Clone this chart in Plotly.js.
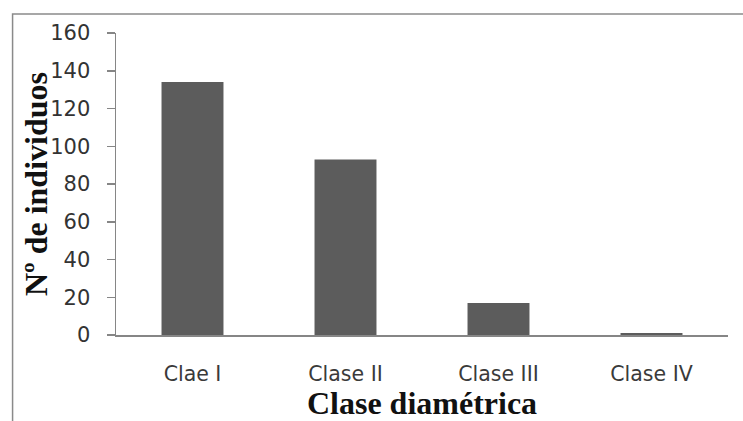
<!DOCTYPE html>
<html>
<head>
<meta charset="utf-8">
<script src="https://cdn.plot.ly/plotly-3.0.1.min.js"></script>
<style>
  html, body { margin: 0; padding: 0; background: #ffffff; }
  #chart { width: 743px; height: 421px; }
</style>
</head>
<body>
<div id="chart"></div>
<script>
// Number of individuals per diameter class
const categories = ["Clae I", "Clase II", "Clase III", "Clase IV"];
const individuos = [134, 93, 17, 1];
const yTicks = [0, 20, 40, 60, 80, 100, 120, 140, 160];
const xTitle = "Clase diamétrica";
const yTitle = "Nº de individuos";

const axisGray = "#868686";
const xLabelFont = { family: "DejaVu Sans", size: 20.5, color: "#3a3a3a" };
const yLabelFont = { family: "DejaVu Sans", size: 21, color: "#333333" };
const titleFont = { family: "Liberation Serif", size: 32, color: "#111111", weight: 700 };

const trace = {
  type: "bar",
  x: categories,
  y: individuos,
  marker: { color: "#5c5c5c" },
  hoverinfo: "x+y"
};

const layout = {
  width: 743,
  height: 421,
  margin: { l: 116, r: 15, t: 33, b: 86 },
  paper_bgcolor: "#ffffff",
  plot_bgcolor: "#ffffff",
  showlegend: false,
  bargap: 0.595,
  font: xLabelFont,
  xaxis: {
    type: "category",
    showline: true,
    linecolor: axisGray,
    linewidth: 1.5,
    ticks: "",
    showgrid: false,
    zeroline: false,
    tickfont: xLabelFont,
    ticklabelstandoff: 20,
    automargin: false,
    title: { text: xTitle, font: titleFont, standoff: 16 }
  },
  yaxis: {
    range: [0, 160],
    tickvals: yTicks,
    showline: true,
    linecolor: axisGray,
    linewidth: 1.5,
    ticks: "outside",
    ticklen: 8,
    tickcolor: axisGray,
    tickwidth: 1.5,
    showgrid: false,
    zeroline: false,
    tickfont: yLabelFont,
    ticklabelstandoff: 12,
    automargin: false
  },
  annotations: [
    {
      // vertical y-axis title
      text: yTitle,
      xref: "paper", yref: "paper",
      x: -0.1307, y: 0.5,
      xanchor: "center", yanchor: "middle",
      textangle: -90,
      showarrow: false,
      font: titleFont
    }
  ],
  shapes: [
    {
      // outer chart frame
      type: "rect",
      xref: "paper", yref: "paper",
      x0: -0.169, x1: 1.04,
      y0: -0.33, y1: 1.063,
      line: { color: "#8a8a8a", width: 1.5 },
      fillcolor: "rgba(0,0,0,0)",
      layer: "below"
    }
  ]
};

Plotly.newPlot("chart", [trace], layout, { staticPlot: true, displayModeBar: false });
</script>
</body>
</html>
